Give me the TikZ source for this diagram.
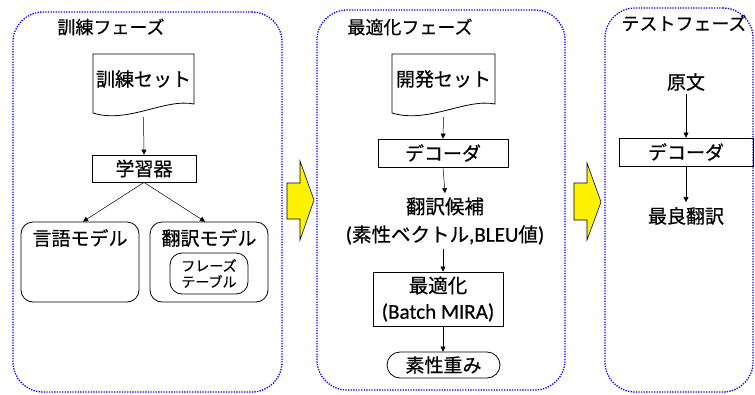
\documentclass[tikz,border=0pt]{standalone}
\usepackage{fontspec}
\setmainfont{Noto Sans CJK JP}[FakeBold=0.6]
\newfontfamily\latf{Carlito}[Scale=1.08, FakeBold=0.6]
\usetikzlibrary{arrows.meta}
\begin{document}
\begin{tikzpicture}[x=1pt,y=-1pt,
  phase/.style={draw=blue, line width=1.3pt, dash pattern=on 1.3pt off 1.3pt, rounded corners=30pt, inner sep=0pt},
  ttl/.style={font=\fontsize{18}{20}\selectfont, inner sep=0pt},
  box/.style={draw, line width=0.8pt, inner sep=0pt, font=\fontsize{19}{22}\selectfont},
  rbox/.style={box, rounded corners=12pt},
  txt/.style={inner sep=0pt, font=\fontsize{19}{22}\selectfont, align=center},
  conn/.style={line width=0.5pt, -{Triangle[length=5pt,width=5pt]}},
  bigarrow/.style={draw, line width=0.6pt, fill=yellow},
  docshape/.style={draw, line width=0.8pt, fill=white}
]
\useasboundingbox (0,0) rectangle (755,394);
% phases
\node[phase, minimum width=269pt, minimum height=380pt] (p1) at (147.5,202) {};
\node[phase, minimum width=248pt, minimum height=380pt] (p2) at (441,200) {};
\node[phase, minimum width=148pt, minimum height=384pt] (p3) at (679,200) {};
\node[ttl] (t1) at (111,27) {訓練フェーズ};
\node[ttl] (t2) at (410,27) {最適化フェーズ};
\node[ttl] (t3) at (684,23) {テストフェーズ};

% ---- training phase
\draw[docshape] (93,113) -- (93,54) -- (194,54) -- (194,104) .. controls (165,98) and (128,124) .. (93,113);
\node[txt, minimum width=101pt, minimum height=63pt] (d1) at (143.5,85.5) {};
\node[txt] (d1t) at (143.5,79) {訓練セット};
\node[box, minimum width=104pt, minimum height=27pt] (learn) at (144,168.5) {学習器};
\node[rbox, minimum width=118pt, minimum height=80pt] (lm) at (80,262) {};
\node[txt] (lmt) at (80,238) {言語モデル};
\node[rbox, minimum width=118pt, minimum height=80pt] (tm) at (209,262) {};
\node[txt] (tmt) at (209,238) {翻訳モデル};
\node[rbox, minimum width=78pt, minimum height=41pt, font=\fontsize{14}{16}\selectfont, align=center] (pt) at (209,273.5) {フレーズ\\テーブル};
\draw[conn] (d1.south) -- (learn.north);
\draw[conn] (learn.south) -- ([xshift=3pt]lm.north);
\draw[conn] (learn.south) -- ([xshift=-4pt]tm.north);

% big arrow 1
\draw[bigarrow] (287,183) -- (300,183) -- (300,161) -- (314,200) -- (300,240) -- (300,219) -- (287,219) -- cycle;

% ---- optimisation phase
\draw[docshape] (392,113) -- (392,54) -- (495,54) -- (495,104) .. controls (466,98) and (428,124) .. (392,113);
\node[txt, minimum width=103pt, minimum height=63pt] (d2) at (443.5,85.5) {};
\node[txt] (d2t) at (443.5,79) {開発セット};
\node[box, minimum width=130pt, minimum height=28pt] (dec2) at (443,153) {デコーダ};
\node[txt, inner sep=4pt, font=\fontsize{19.5}{28}\selectfont] (cand) at (445,221) {翻訳候補\\{\latf (}素性ベクトル{\latf ,BLEU}値{\latf )}};
\node[box, minimum width=130pt, minimum height=54pt, align=center, font=\fontsize{19.5}{26}\selectfont] (opt) at (438,299) {最適化\\{\latf (Batch MIRA)}};
\node[box, rounded corners=13pt, minimum width=113pt, minimum height=26pt] (w) at (443.5,365) {素性重み};
\draw[conn] (d2.south) -- (dec2.north);
\draw[conn] (dec2.south) -- (cand.north);
\draw[conn] ([xshift=-2pt]cand.south) -- ([xshift=-2pt]cand.south |- opt.north);
\draw[conn] ([xshift=5pt]opt.south) -- ([xshift=5pt]opt.south |- w.north);

% big arrow 2
\draw[bigarrow] (574,183) -- (587,183) -- (587,163) -- (601,202) -- (587,240) -- (587,220) -- (574,220) -- cycle;

% ---- test phase
\node[txt, inner sep=3pt] (src) at (686,82) {原文};
\node[box, minimum width=134pt, minimum height=28pt] (dec3) at (686,152) {デコーダ};
\node[txt, inner sep=5pt] (best) at (686,216) {最良翻訳};
\draw[conn] (src.south) -- (dec3.north);
\draw[conn] (dec3.south) -- (best.north);
\end{tikzpicture}
\end{document}
